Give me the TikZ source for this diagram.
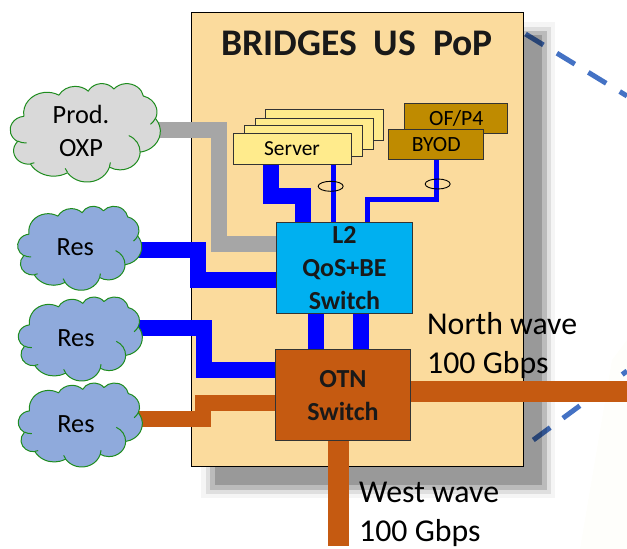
\documentclass[tikz,border=0pt]{standalone}
\usepackage{fontspec}
\usetikzlibrary{shapes.geometric}
\setmainfont{Carlito}
\definecolor{peach}{HTML}{FBDB9D}
\definecolor{srvfill}{HTML}{FFEB8C}
\definecolor{byodfill}{HTML}{BF8B00}
\definecolor{lfill}{HTML}{00B0F0}
\definecolor{otnfill}{HTML}{C55A11}
\definecolor{wblue}{HTML}{0000FF}
\definecolor{wgray}{HTML}{A6A6A6}
\definecolor{cgray}{HTML}{D9D9D9}
\definecolor{cblue}{HTML}{8FAADC}
\definecolor{cgreen}{HTML}{1E8C1E}
\definecolor{dashblue}{HTML}{4472C4}
\definecolor{faintcream}{HTML}{FEFEFB}
\pgfdeclarelayer{base}
\pgfdeclarelayer{wires}
\pgfsetlayers{base,wires,main}
\def\ca#1#2#3#4{arc[x radius=#1,y radius=#2,start angle={pa(#1,#2,#3)},end angle={pa(#1,#2,(#3)+(#4))}]}
\def\cloudpath{(39,143.7) \ca{67.53}{91.9}{-190.487}{123.78}\ca{53.33}{72.67}{-144.102}{89.945}\ca{43.65}{59.45}{-145.808}{99.723}\ca{48.57}{65.95}{-130.986}{117.242}\ca{53.33}{72.73}{-78.709}{109.027}\ca{67.75}{92.2}{-46.267}{130.269}\ca{57.85}{78.67}{0.625}{114.033}\ca{67.52}{92.15}{22.452}{115.173}\ca{77.2}{105.43}{66.243}{75.711}\ca{43.6}{59.18}{-274.942}{146.736}\ca{43.45}{59.45}{-246.829}{152.519} -- cycle}
\tikzset{
  declare function={pa(\w,\h,\a)=\a+Mod(atan2(\w*sin(\a),\h*cos(\a))-\a+180,360)-180;},
  x=1pt,y=-1pt,
  boxed/.style={draw=black!80,line width=1pt,rectangle,inner sep=0pt,anchor=north west},
  srv/.style={boxed,fill=srvfill,minimum width=118pt,minimum height=31pt,font=\fontsize{21.4}{24}\selectfont},
  byod/.style={boxed,fill=byodfill,font=\fontsize{21.7}{25}\selectfont},
  swbox/.style={boxed,align=center,font=\fontsize{26}{33}\selectfont\bfseries,text=black!90},
  thick wire/.style={line width=16pt,color=wblue},
  thin wire/.style={line width=5pt,color=wblue},
  gray wire/.style={line width=16pt,color=wgray},
  brown wire/.style={line width=16pt,color=otnfill},
  wave/.style={line width=21pt,color=otnfill},
  label text/.style={align=left,anchor=north west,inner sep=0pt,font=\fontsize{31.8}{39}\selectfont},
  cloud text/.style={align=center,font=\fontsize{26.3}{33}\selectfont},
  dashline/.style={line width=5pt,color=dashblue,dash pattern=on 21pt off 15.8pt},
  ringmark/.style={draw=black,line width=0.9pt,ellipse,minimum width=25pt,minimum height=10pt,inner sep=0pt},
  shadowlayer/.style={fill=black,fill opacity=#1},
  cloudline/.style={draw=cgreen,line width=1pt,line join=round},
  pics/pptcloud/.style n args={5}{code={
    \begin{scope}[shift={(#1,#2)},xscale=#3/432,yscale=#4/432]
      \path[fill=#5,cloudline] \cloudpath;
      \draw[cloudline] (46.93,261.77) \ca{43.45}{59.45}{86.742}{26.43};
      \draw[cloudline] (69.28,348.99) \ca{43.6}{59.18}{73.61}{11.447};
      \draw[cloudline] (164.78,390.9) \ca{67.52}{92.15}{137.624}{14.081};
      \draw[cloudline] (288.27,347.51) \ca{67.52}{92.15}{6.453}{15.998};
      \draw[cloudline] (341.29,229.54) \ca{57.85}{78.67}{-70.292}{70.917};
      \draw[cloudline] (417.98,153.54) \ca{53.33}{72.73}{30.318}{27.751};
    \end{scope}}}
}
\begin{document}
\begin{tikzpicture}
\useasboundingbox (0,0) rectangle (627,549);
\begin{pgfonlayer}{base}
\fill[faintcream] (580,549) -- (612,360) -- (627,340) -- (627,549) -- cycle;
% dashed links, seen through the shadow
\coordinate (d1a) at (525.5,34);
\coordinate (d1b) at (627,96);
\coordinate (d2a) at (533.3,440);
\coordinate (d2b) at (627,371);
\draw[dashline] (d1a) -- (d1b);
\draw[dashline] (d2a) -- (d2b);
% soft shadow
\fill[shadowlayer=0.04] (201,22) rectangle (555,498);
\fill[shadowlayer=0.09] (206,26.7) rectangle (551,494);
\fill[shadowlayer=0.16] (210,31) rectangle (547,490);
\fill[shadowlayer=0.18] (215,35) rectangle (542,485);
% container
\node[draw=black,line width=1pt,fill=peach,rectangle,inner sep=0pt,anchor=north west,minimum width=332.5pt,minimum height=454.5pt] (pop) at (190.5,11.5) {};
\end{pgfonlayer}
\node[font=\fontsize{37.6}{44}\selectfont\bfseries,text=black!90] (title) at (357,43) {BRIDGES\ \ US\ \ PoP};
% clouds
\pic {pptcloud={10.3}{83.3}{150}{98.4}{cgray}};
\pic {pptcloud={17.7}{206}{124}{84}{cblue}};
\pic {pptcloud={18.3}{296.7}{124}{84}{cblue}};
\pic {pptcloud={18.3}{382.7}{124}{84}{cblue}};
\node[cloud text] (oxp) at (81,131) {Prod.\\OXP};
\node[cloud text] (res1) at (75.3,247) {Res};
\node[cloud text] (res2) at (76,338) {Res};
\node[cloud text] (res3) at (76,424) {Res};
\coordinate (oxpe) at (158,130);
\coordinate (res1e) at (136,250.3);
\coordinate (res2e) at (136,328);
\coordinate (res3e) at (136,418.8);
% servers
\node[srv] (s4) at (264.7,109.3) {};
\node[srv] (s3) at (255.3,117.5) {};
\node[srv] (s2) at (244,125.3) {};
\node[srv] (s1) at (232.5,132.7) {Server};
\node[byod,minimum width=103pt,minimum height=30.6pt] (of) at (404.3,102.7) {OF/P4};
\node[byod,minimum width=95pt,minimum height=30.4pt] (by) at (388.3,128.7) {BYOD};
% switches
\node[swbox,fill=lfill,minimum width=135.3pt,minimum height=90.7pt] (l2) at (276.3,222) {L2\\QoS+BE\\Switch};
\node[swbox,fill=otnfill,minimum width=135pt,minimum height=90.7pt] (otn) at (275,349.3) {OTN\\Switch};
% wires
\begin{pgfonlayer}{wires}
\draw[gray wire] (oxpe) -- (219,130) -- (219,244) -- (219,244 -| l2.west);
\draw[thick wire] (res1e) -- (198.3,250.3) -- (198.3,279.5) -- (198.3,279.5 -| l2.west);
\draw[thick wire] (res2e) -- (203.5,328) -- (203.5,370) -- (203.5,370 -| otn.west);
\draw[brown wire] (res3e) -- (202.8,418.8) -- (202.8,403) -- (202.8,403 -| otn.west);
\draw[thick wire] (271,0 |- s1.south) -- (271,196) -- (303,196) -- (303,0 |- l2.north);
\draw[thin wire] (333,0 |- s1.south) -- (333,0 |- l2.north);
\draw[thin wire] (436.3,0 |- by.south) -- (436.3,199) -- (367.3,199) -- (367.3,0 |- l2.north);
\draw[thick wire] (315.5,0 |- l2.south) -- (315.5,0 |- otn.north);
\draw[thick wire] (360.5,0 |- l2.south) -- (360.5,0 |- otn.north);
\coordinate (northend) at (627,391.8);
\coordinate (westend) at (338.2,546);
\draw[wave] (otn.east |- northend) -- (northend);
\draw[wave] (otn.south -| westend) -- (westend);
\end{pgfonlayer}
% cable rings
\node[ringmark] (r1) at (330.7,186.3) {};
\node[ringmark] (r2) at (437.7,184) {};
% labels
\node[label text] (nw) at (427,312.5) {North wave\\100 Gbps};
\node[label text] (ww) at (359,481.5) {West wave\\100 Gbps};
\end{tikzpicture}
\end{document}
